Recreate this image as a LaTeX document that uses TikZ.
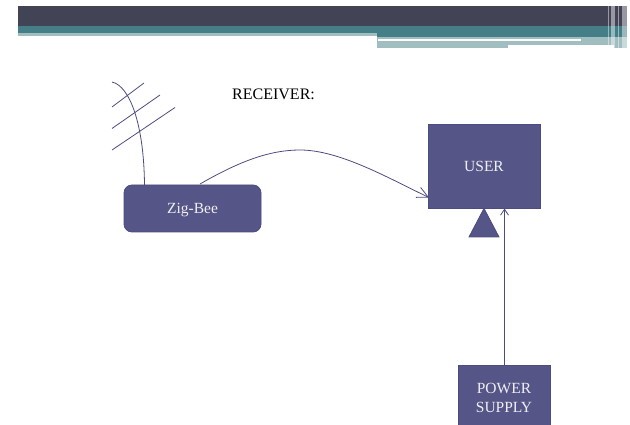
\documentclass[tikz,border=0pt]{standalone}
\usepackage{fontspec}
\setmainfont{Liberation Serif}
\usetikzlibrary{arrows.meta}
\definecolor{boxfill}{HTML}{555587}
\definecolor{boxline}{HTML}{4C4C80}
\definecolor{bardark}{HTML}{424456}
\definecolor{barteal}{HTML}{447F87}
\definecolor{barpale}{HTML}{A0BDC0}
\begin{document}
\begin{tikzpicture}[x=1pt,y=-1pt]
\tikzstyle{every node}=[inner sep=0pt, font=\fontsize{15.5}{19}\selectfont, text=white!90!boxfill, align=center]
\tikzstyle{block}=[draw=boxline, fill=boxfill, line width=.8pt, minimum width=112pt, minimum height=84pt]
\tikzstyle{wire}=[draw=boxline, line width=.8pt]
\tikzstyle{strip}=[fill=white, opacity=.45]
\useasboundingbox (0,0) rectangle (630,425);
% top bars
\fill [bardark] (18,6) rectangle (627,26);
\fill [barteal] (18,26) rectangle (627,33);
\fill [barpale] (18,33) rectangle (377,36);
\fill [barteal] (377,33) rectangle (627,37);
\fill [barpale] (377,37) rectangle (627,48);
\fill [white] (378,39) rectangle (581,41);
\fill [white] (508,45.5) rectangle (614,48);
\fill [strip] (608,6) rectangle (609,48);
\fill [strip] (611,6) rectangle (615,48);
\fill [strip] (618,6) rectangle (619,48);
\fill [strip] (622,6) rectangle (626.5,48);
% blocks
\draw (192.5,208.5) node (zigbee) [block, rounded corners=8pt, minimum width=137pt, minimum height=47pt, text depth=0pt] {Zig-Bee};
\draw (484,166) node (user) [block] {USER};
\draw (504,398) node (power) [block, minimum width=92pt, minimum height=66pt] {POWER\\SUPPLY};
\draw (232,94) node (title) [anchor=west, text=black, font=\fontsize{16}{19}\selectfont] {RECEIVER:};
\draw [wire, fill=boxfill] (user.south) -- (499,237) -- (469,237) -- cycle;
% free ends
\coordinate (aerialtop) at (112,82);
\coordinate (aerialfoot) at (144.5,185);
\coordinate (a1) at (112,107);
\coordinate (b1) at (144,83);
\coordinate (a2) at (112,128.5);
\coordinate (b2) at (160,95);
\coordinate (a3) at (112,150);
\coordinate (b3) at (175,107.5);
\coordinate (zbout) at (200,184);
\coordinate (userin) at (429,197.5);
\coordinate (powerout) at (504.5,365);
\coordinate (powerin) at (504.5,208.5);
% aerial
\draw [wire] (aerialtop) .. controls (130,86) and (144,125) .. (aerialfoot);
\draw [wire] (a1) -- (b1);
\draw [wire] (a2) -- (b2);
\draw [wire] (a3) -- (b3);
% arrows
\draw [wire, -{Straight Barb[length=11pt,width=11pt]}] (zbout) .. controls (240,161) and (270,150) .. (300,150) .. controls (340,150) and (390,179) .. (userin);
\draw [wire, -{Straight Barb[length=6pt,width=8pt]}] (powerout) -- (powerin);
\end{tikzpicture}
\end{document}
